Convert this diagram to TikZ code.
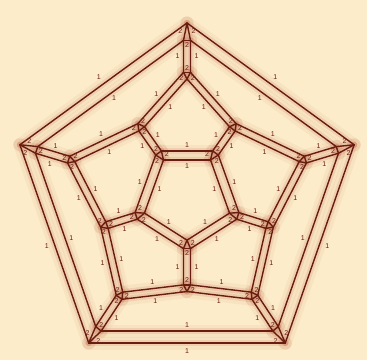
\documentclass[tikz,border=0pt]{standalone}
\usepackage{fontspec}
\setmainfont{Liberation Sans}
\usetikzlibrary{calc}
\definecolor{bg}{RGB}{252,236,202}
\definecolor{ln}{RGB}{105,28,18}
\definecolor{glw}{RGB}{205,130,95}
\tikzset{
  edgeline/.style={draw=ln, line width=1.4pt, line cap=round},
  glowA/.style={draw=glw, line width=13pt, opacity=0.08, line cap=round},
  glowB/.style={draw=glw, line width=6pt, opacity=0.2, line cap=round},
  lab/.style={font=\fontsize{7}{7}\selectfont, text=ln, inner sep=0pt},
}
\newcommand\mkcorner[6]{%
  \path let \p1=($(#3)-(#2)$), \p2=($(#4)-(#2)$),
    \n1={atan2(\y1,\x1)}, \n2={atan2(\y2,\x2)},
    \n3={abs(sin(\n2-\n1))},
    \n4={(#6)/\n3*cos(\n1)+(#5)/\n3*cos(\n2)},
    \n5={(#6)/\n3*sin(\n1)+(#5)/\n3*sin(\n2)}
  in (#2) ++({\n4*1pt},{\n5*1pt}) coordinate (#1);
}
\newcommand\segglow[5]{\draw[glowA] (#1)--(#2); \draw[glowB] (#1)--(#2);}
\newcommand\segline[5]{\draw[edgeline] (#1)--(#2);}
\newcommand\seglab[5]{\node[lab] at ($(#1)!0.5!(#2)!#5pt!#4:(#2)$) {#3};}
\newcommand\allsegs{%
  \foreach \k in {0,...,4}{%
    \pgfmathtruncatemacro\km{mod(\k+4,5)}%
    \pgfmathtruncatemacro\kp{mod(\k+1,5)}%
    % outer face
    \seg{O\k out}{O\kp out}{1}{90}{8}
    % face P_k
    \seg{O\k P\k}{O\kp P\k}{1}{-90}{6}
    \seg{O\kp P\k}{A\kp P\k}{1}{-90}{6}
    \seg{A\kp P\k}{B\k P\k}{1}{-90}{6}
    \seg{B\k P\k}{A\k P\k}{1}{-90}{6}
    \seg{A\k P\k}{O\k P\k}{1}{-90}{6}
    % face Q_k
    \seg{A\kp Q\k}{B\kp Q\k}{1}{-90}{6}
    \seg{B\kp Q\k}{C\kp Q\k}{1}{-90}{6}
    \seg{C\kp Q\k}{C\k Q\k}{1}{-90}{6}
    \seg{C\k Q\k}{B\k Q\k}{1}{-90}{6}
    \seg{B\k Q\k}{A\kp Q\k}{1}{-90}{6}
    % inner face
    \seg{C\k In}{C\kp In}{1}{-90}{6}
    % triangles
    \seg{O\k out}{O\k P\k}{2}{90}{5}
    \seg{O\k P\k}{O\k P\km}{2}{90}{4.5}
    \seg{O\k P\km}{O\k out}{2}{90}{5}
    \seg{A\k P\km}{A\k P\k}{2}{90}{4.5}
    \seg{A\k P\k}{A\k Q\km}{2}{90}{4.5}
    \seg{A\k Q\km}{A\k P\km}{2}{90}{4.5}
    \seg{B\k P\k}{B\k Q\k}{2}{90}{4.5}
    \seg{B\k Q\k}{B\k Q\km}{2}{90}{4.5}
    \seg{B\k Q\km}{B\k P\k}{2}{90}{4.5}
    \seg{C\k Q\km}{C\k Q\k}{2}{90}{4.5}
    \seg{C\k Q\k}{C\k In}{2}{90}{4.5}
    \seg{C\k In}{C\k Q\km}{2}{90}{4.5}
  }%
}
\begin{document}
\begin{tikzpicture}[x=1pt,y=-1pt]
\useasboundingbox (0,0) rectangle (367,360);
\fill[bg] (0,0) rectangle (367,360);
% dodecahedron vertices
\coordinate (O0) at (187,30.4);
\coordinate (O1) at (347,147);
\coordinate (O2) at (281,337);
\coordinate (O3) at (93,337);
\coordinate (O4) at (27,147);
\coordinate (A0) at (187,73.7);
\coordinate (A1) at (304,160);
\coordinate (A2) at (254,296);
\coordinate (A3) at (120,296);
\coordinate (A4) at (70,160);
\coordinate (B0) at (234,126.5);
\coordinate (B1) at (270,226);
\coordinate (B2) at (187,288);
\coordinate (B3) at (104,226);
\coordinate (B4) at (140,126.5);
\coordinate (C0) at (213.7,155.5);
\coordinate (C1) at (235,215);
\coordinate (C2) at (187,245.5);
\coordinate (C3) at (139,215);
\coordinate (C4) at (160.3,155.5);
% corners
\foreach \k in {0,...,4}{%
  \pgfmathtruncatemacro\km{mod(\k+4,5)}%
  \pgfmathtruncatemacro\kp{mod(\k+1,5)}%
  \mkcorner{O\k out}{O\k}{O\km}{O\kp}{-6}{-6}
  \mkcorner{O\k P\k}{O\k}{O\kp}{A\k}{6}{3.5}
  \mkcorner{O\k P\km}{O\k}{O\km}{A\k}{6}{3.5}
  \mkcorner{A\k P\km}{A\k}{O\k}{B\km}{3.5}{3.5}
  \mkcorner{A\k P\k}{A\k}{O\k}{B\k}{3.5}{3.5}
  \mkcorner{A\k Q\km}{A\k}{B\km}{B\k}{3.5}{3.5}
  \mkcorner{B\k P\k}{B\k}{A\k}{A\kp}{3.5}{3.5}
  \mkcorner{B\k Q\k}{B\k}{A\kp}{C\k}{3.5}{3.5}
  \mkcorner{B\k Q\km}{B\k}{A\k}{C\k}{3.5}{3.5}
  \mkcorner{C\k Q\km}{C\k}{B\k}{C\km}{3.5}{4.5}
  \mkcorner{C\k Q\k}{C\k}{B\k}{C\kp}{3.5}{4.5}
  \mkcorner{C\k In}{C\k}{C\km}{C\kp}{4.5}{4.5}
}
\let\seg\segglow \allsegs
\let\seg\segline \allsegs
\let\seg\seglab \allsegs
\end{tikzpicture}
\end{document}
